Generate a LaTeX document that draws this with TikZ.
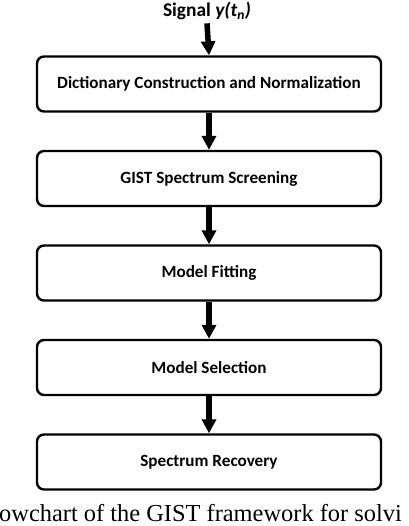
\documentclass[tikz,border=0pt]{standalone}
\usepackage{fontspec}
\setmainfont{Carlito}
\newfontfamily\capfont{Liberation Serif}
\usepackage{tikz}
\usetikzlibrary{arrows.meta}
\usetikzlibrary{positioning}

\begin{document}
\begin{tikzpicture}[x=1bp,y=-1bp,node distance=94.5bp,
    block/.style={draw,line width=2.4bp,rounded corners=7bp,minimum width=344bp,minimum height=55bp,inner sep=0pt,font=\fontsize{17.2}{19}\selectfont\bfseries},
    flow/.style={line width=5.5bp,-{Triangle[length=14bp,width=14bp]}}]
    \useasboundingbox (0,0) rectangle (408,526);
    \clip (0,0) rectangle (408,526);
   			 	\node (sig)      at (207,11)     {\fontsize{19.5}{21}\selectfont\bfseries Signal \textit{y(t\textsubscript{n})}};
  			 	\node[block] (stage_1) at (209,84)  {Dictionary Construction and Normalization};
  			 	\node[block] (stage_2) [below of= stage_1] {GIST Spectrum Screening};
    			\node[block] (stage_3) [below of= stage_2] {Model Fitting};
    			\node[block] (stage_4) [below of= stage_3] {Model Selection};
    			\node[block] (stage_5) [below of= stage_4] {Spectrum Recovery};
    			\node[anchor=base west,inner sep=0pt] (cap) at (-1,521) {\capfont\fontsize{24.5}{26}\selectfont owchart of the GIST framework for solvi};
    			\draw[flow] 	(sig.south) 	-- (stage_1.north);
              	\draw[flow]	(stage_1) 	-- (stage_2);
              	\draw[flow]	(stage_2) 	-- (stage_3);
              	\draw[flow]	(stage_3)	-- (stage_4);
              	\draw[flow]	(stage_4)	-- (stage_5);
  \end{tikzpicture}
\end{document}
